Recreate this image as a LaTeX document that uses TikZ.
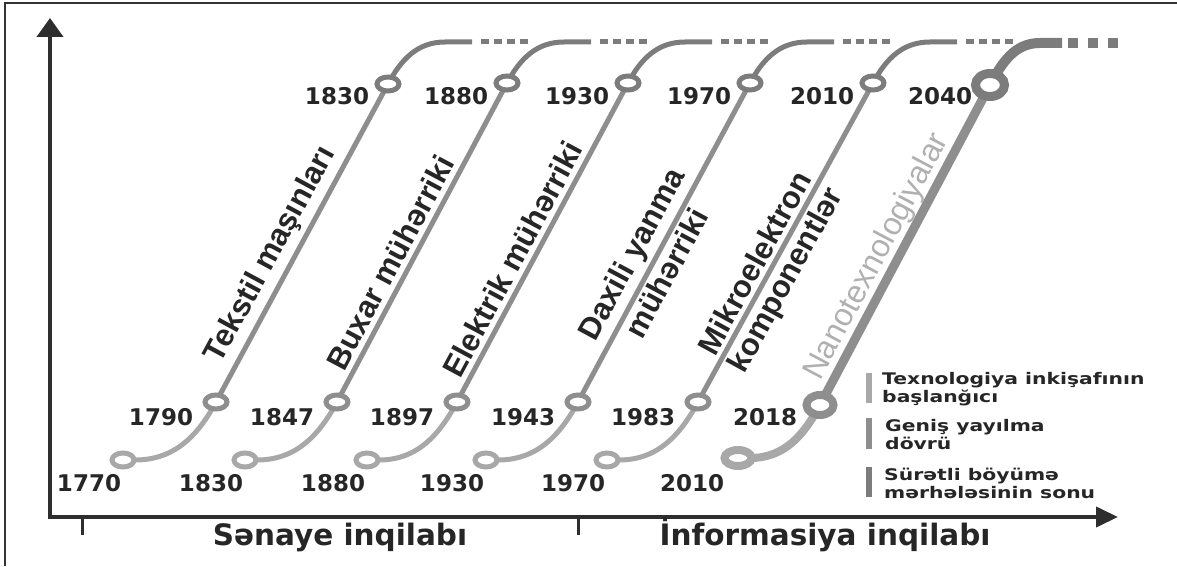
\documentclass[tikz,border=0pt]{standalone}
\usepackage{fontspec}
\setmainfont{DejaVu Sans}
\newfontfamily\lblfont{Liberation Sans}
\newfontfamily\legfont{DejaVu Sans}[FakeStretch=1.27]
\usetikzlibrary{arrows.meta,shapes.geometric}
\definecolor{cLight}{HTML}{A8A8A8}
\definecolor{cMid}{HTML}{8E8E8E}
\definecolor{cDark}{HTML}{7C7C7C}
\definecolor{axisc}{HTML}{2E2E2E}
\definecolor{txt}{HTML}{262626}
\definecolor{nanotxt}{HTML}{B0B0B0}
\begin{document}
\begin{tikzpicture}[x=1pt,y=1pt,
  lowline/.style={line width=5pt,draw=cLight},
  midline/.style={line width=5pt,draw=cMid},
  topline/.style={line width=5pt,draw=cDark},
  dotline/.style={line width=5pt,draw=cDark,dash pattern=on 8pt off 5pt},
  ring/.style={ellipse,draw,line width=5pt,fill=white,minimum width=22pt,minimum height=14pt,inner sep=0pt},
  yr/.style={font=\bfseries\fontsize{23}{23}\selectfont,text=txt,inner sep=0pt},
  lbl/.style={font=\lblfont\bfseries\fontsize{31}{32}\selectfont,text=txt,inner sep=0pt},
  axis/.style={line width=4pt,draw=axisc,line join=miter},
  tickmark/.style={line width=3pt,draw=axisc},
  axlbl/.style={font=\bfseries\fontsize{29.5}{29.5}\selectfont,text=txt,inner sep=0pt},
  leg/.style={font=\legfont\bfseries\fontsize{16}{18}\selectfont,text=txt,inner sep=0pt,align=left,anchor=base west}
]
\useasboundingbox (0,0) rectangle (1177,566);
% frame
\draw[line width=1.2pt,black!80] (5,0) -- (5,563) -- (1177,563);

% curves 1-5
\foreach \i/\bx/\mx/\tx/\ty/\yb/\ym/\yt in {
  1/123/216/388/482/1770/1790/1830,
  2/245/337/507/483/1830/1847/1880,
  3/367/457/628/483/1880/1897/1930,
  4/486/578/750/483/1930/1943/1970,
  5/607/698/873/483/1970/1983/2010}{
  \coordinate (b\i) at (\bx,106);
  \coordinate (m\i) at (\mx,164);
  \coordinate (t\i) at (\tx,\ty);
  \coordinate (h\i) at (\tx+57,524);
  \coordinate (s\i) at (\tx+84,524);
  \coordinate (d\i) at (\tx+93,524);
  \coordinate (e\i) at (\tx+141,524);
  \draw[lowline] (b\i) -- ++(12,0) to[out=0,in=241.7] (m\i);
  \draw[midline] (m\i) -- (t\i);
  \draw[topline] (t\i) to[out=61.7,in=180] (h\i) -- (s\i);
  \draw[dotline] (d\i) -- (e\i);
  \node[ring,draw=cLight] (rb\i) at (b\i) {};
  \node[ring,draw=cMid] (rm\i) at (m\i) {};
  \node[ring,draw=cDark] (rt\i) at (t\i) {};
  \node[yr] (yb\i) at (\bx-34,83) {\yb};
  \node[yr] (ym\i) at (\mx-55,149) {\ym};
  \node[yr] (yt\i) at (\tx-51,470) {\yt};
}

% curve 6 (Nano)
\coordinate (b6) at (738,108);
\coordinate (m6) at (820,161);
\coordinate (t6) at (990,481);
\coordinate (h6) at (1040,523);
\coordinate (s6) at (1062,523);
\coordinate (d6) at (1068,523);
\coordinate (e6) at (1118,523);
\draw[line width=8pt,draw=cLight] (b6) -- ++(12,0) to[out=0,in=241.7] (m6);
\draw[line width=9pt,draw=cMid] (m6) -- (t6);
\draw[line width=10pt,draw=cDark] (t6) to[out=61.7,in=180] (h6) -- (s6);
\draw[line width=10pt,draw=cDark,dash pattern=on 10pt off 10pt] (d6) -- (e6);
\node[ellipse,draw=cLight,line width=8pt,fill=white,minimum width=27pt,minimum height=16pt,inner sep=0pt] (rb6) at (b6) {};
\node[ellipse,draw=cMid,line width=8pt,fill=white,minimum width=27pt,minimum height=20pt,inner sep=0pt] (rm6) at (m6) {};
\node[ellipse,draw=cDark,line width=9pt,fill=white,minimum width=29pt,minimum height=23pt,inner sep=0pt] (rt6) at (t6) {};
\node[yr] (yb6) at (692,83) {2010};
\node[yr] (ym6) at (765,149) {2018};
\node[yr] (yt6) at (940,470) {2040};

% rotated labels
\path (m1) -- (t1) node[lbl,pos=0.43,sloped,above=7pt] (l1) {Tekstil maşınları};
\path (m2) -- (t2) node[lbl,pos=0.41,sloped,above=7pt] (l2) {Buxar mühərriki};
\path (m3) -- (t3) node[lbl,pos=0.42,sloped,above=7pt] (l3) {Elektrik mühərriki};
\path (m4) -- (t4) node[lbl,pos=0.43,sloped,above=6pt] (l4a) {Daxili yanma}
                   node[lbl,pos=0.43,sloped,below=5pt] (l4b) {mühərriki};
\path (m5) -- (t5) node[lbl,pos=0.41,sloped,above=6pt] (l5a) {Mikroelektron}
                   node[lbl,pos=0.41,sloped,below=5pt] (l5b) {komponentlər};
\path (m6) -- (t6) node[lbl,pos=0.435,sloped,above=4pt,font=\lblfont\fontsize{32}{32}\selectfont,text=nanotxt] (l6) {Nanotexnologiyalar};

% axes
\coordinate (ytip) at (50,548);
\coordinate (xtip) at (1118,49);
\draw[axis,{Triangle[length=19pt,width=26pt]}-{Triangle[length=22pt,width=20pt]}] (ytip) |- (xtip);
\coordinate (k1a) at (82,49); \coordinate (k1b) at (82,31);
\coordinate (k2a) at (578,49); \coordinate (k2b) at (578,31);
\draw[tickmark] (k1a) -- (k1b);
\draw[tickmark] (k2a) -- (k2b);
\node[axlbl,anchor=base] (ax1) at (340,21) {Sənaye inqilabı};
\node[axlbl,anchor=base] (ax2) at (825,21) {İnformasiya inqilabı};

% legend
\fill[cLight] (866,163) rectangle (872,193);
\fill[cMid] (866,117) rectangle (872,148);
\fill[cDark] (866,69) rectangle (872,99);
\node[leg] (g1) at (882,164) {Texnologiya inkişafının\\başlanğıcı};
\node[leg] (g2) at (885,117) {Geniş yayılma\\dövrü};
\node[leg] (g3) at (884,68) {Sürətli böyümə\\mərhələsinin sonu};
\end{tikzpicture}
\end{document}
